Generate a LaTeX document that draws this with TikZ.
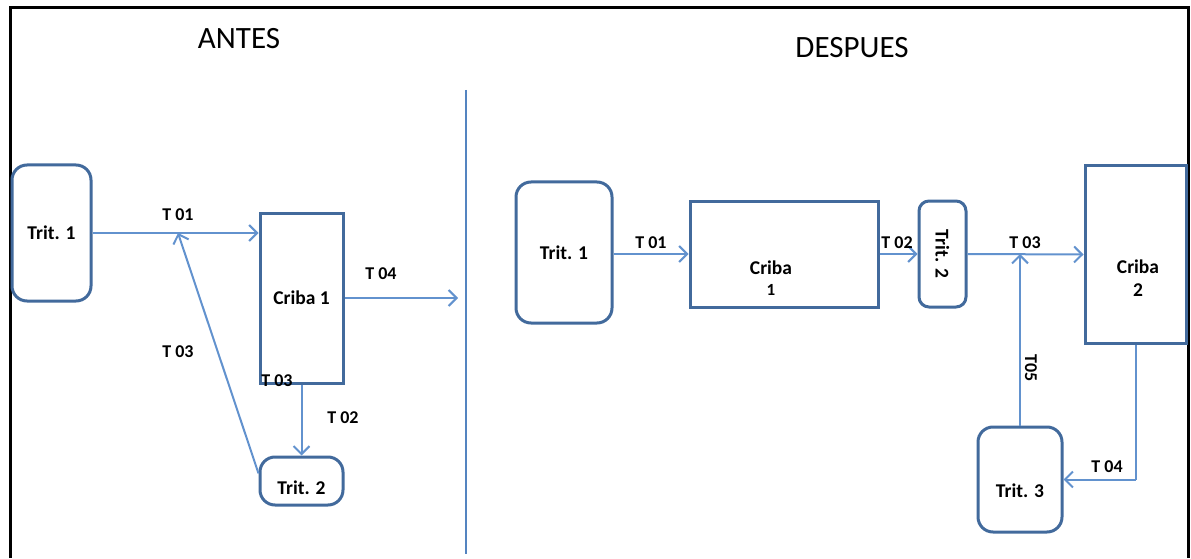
\documentclass[tikz,border=0pt]{standalone}
\usepackage{fontspec}
\setmainfont{Carlito}
\usetikzlibrary{arrows.meta,positioning,calc}
\definecolor{boxblue}{RGB}{66,106,156}
\definecolor{flowblue}{RGB}{98,146,206}
\definecolor{sepblue}{RGB}{84,132,192}
\tikzset{
  tritbox/.style={draw=boxblue, line width=3pt, rounded corners=15pt, fill=white, align=center,
    inner sep=0pt, font=\bfseries\fontsize{19.5}{22}\selectfont},
  cribabox/.style={draw=boxblue, line width=3pt, fill=white, align=center,
    inner sep=0pt, font=\bfseries\fontsize{19.5}{22}\selectfont},
  boxtext/.style={align=center, inner sep=0pt, font=\bfseries\fontsize{19.5}{23}\selectfont},
  flow/.style={-{Straight Barb[length=8pt,width=16pt,line width=2pt]}, line width=2pt, flowblue},
  plainflow/.style={line width=2pt, flowblue},
  tlabel/.style={inner sep=1pt, font=\bfseries\fontsize{18}{20}\selectfont},
  titlelabel/.style={inner sep=0pt, font=\fontsize{31}{36}\selectfont}
}
\begin{document}
\begin{tikzpicture}[x=1pt,y=1pt]
  \useasboundingbox (0,0) rectangle (1191,558);
  % frame and separator
  \draw[line width=3pt] (10,0) -- (10,550) -- (1188,550) -- (1188,0);
  \draw[sepblue, line width=2.8pt] (466,468) -- (466,4);
  \node[titlelabel] (antes) at (239,519) {ANTES};
  \node[titlelabel] (despues) at (852,510) {DESPUES};

  % antes
  \node[tritbox, minimum width=79pt, minimum height=136pt] (trit1L) at (51.5,325) {Trit. 1};
  \node[cribabox, minimum width=83pt, minimum height=170pt] (criba1L) at (301.5,260) {Criba 1};
  \node[tritbox, minimum width=83pt, minimum height=48pt] (trit2L) at (301.5,77) {\raisebox{-13pt}[0pt][0pt]{Trit. 2}};
  \coordinate (join1) at (178,325);
  \coordinate (out1) at (458,260);
  \draw[flow] (trit1L.east) -- (trit1L.east -| criba1L.west);
  \draw[flow] (trit2L.170) -- (join1);
  \draw[flow] (criba1L.east) -- (out1);
  \draw[flow] (criba1L.south) -- (trit2L.north);
  \node[tlabel] (t01L) at (178,343) {T 01};
  \node[tlabel] (t03L) at (178,206) {T 03};
  \node[tlabel] (t04L) at (381,284) {T 04};
  \node[tlabel] (t02L) at (343,140) {T 02};
  \node[tlabel] (t03Lb) at (277,177) {T 03};

  % despues
  \node[tritbox, minimum width=96pt, minimum height=141pt] (trit1R) at (564,305.5) {Trit. 1};
  \node[cribabox, minimum width=188pt, minimum height=106pt] (criba1R) at (784,304) {};
  \node[boxtext] (criba1Rtxt) at (771,280) {Criba\\[-2pt]{\fontsize{17}{20}\selectfont 1}};
  \node[tritbox, rounded corners=10pt, minimum width=47pt, minimum height=106pt] (trit2R) at (942.5,304) {\rotatebox{-90}{Trit. 2}};
  \node[cribabox, minimum width=101pt, minimum height=177pt] (criba2) at (1135.5,303.5) {};
  \node[boxtext] (criba2txt) at (1138,280) {Criba\\2};
  \node[tritbox, minimum width=84pt, minimum height=105pt] (trit3) at (1020,78.5) {\raisebox{-18pt}[0pt][0pt]{Trit. 3}};
  \coordinate (join2) at (1020,304);
  \coordinate (bend4) at (criba2.south |- trit3.east);
  \draw[flow] (trit1R.east |- criba1R.west) -- (criba1R.west);
  \draw[flow] (criba1R.east) -- (trit2R.west);
  \draw[flow] (trit2R.east) -- (criba2.west);
  \draw[plainflow] (criba2.south) -- (bend4);
  \draw[flow] (bend4) -- (trit3.east);
  \draw[flow] (trit3.north) -- (join2);
  \node[tlabel] (t01R) at (651,315) {T 01};
  \node[tlabel] (t02R) at (897,315) {T 02};
  \node[tlabel] (t03R) at (1025,315) {T 03};
  \node[tlabel] (t04R) at (1107,91) {T 04};
  \node[tlabel, rotate=-90] (t05R) at (1031,190) {T05};
\end{tikzpicture}
\end{document}
